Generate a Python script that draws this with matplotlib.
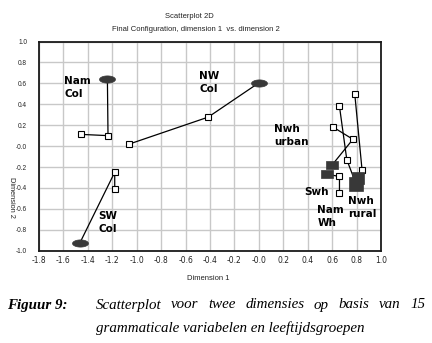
import matplotlib
matplotlib.use('Agg')
import matplotlib.pyplot as plt
from matplotlib.path import Path
import numpy as np

plt.rcParams['axes.unicode_minus'] = False

# ---- data ----
groups = ["Nam Col", "NW Col", "SW Col", "Nwh urban", "Nwh rural A", "Nwh rural B", "Nam Wh"]
centroid_x = [-1.24, 0.00, -1.465, 0.60, 0.813, 0.796, 0.56]
centroid_y = [0.64, 0.605, -0.925, -0.18, -0.306, -0.363, -0.27]
centroid_kind = ["ellipse", "ellipse", "ellipse", "rect", "sq_small", "sq_large", "rect"]
p1_x = [-1.235, -0.415, -1.18, 0.77, 0.845, 0.72, 0.66]
p1_y = [0.10, 0.277, -0.25, 0.065, -0.23, -0.13, -0.29]
p2_x = [-1.456, -1.06, -1.18, 0.61, 0.785, 0.66, 0.66]
p2_y = [0.112, 0.02, -0.41, 0.18, 0.50, 0.38, -0.45]

label_text = ["Nam\nCol", "NW\nCol", "SW\nCol", "Nwh\nurban", "Swh", "Nam\nWh", "Nwh\nrural"]
label_x = [-1.595, -0.49, -1.311, 0.127, 0.371, 0.479, 0.728]
label_y = [0.67, 0.72, -0.62, 0.21, -0.394, -0.56, -0.474]

x_ticks = np.round(np.arange(-1.8, 1.01, 0.2), 1)
y_ticks = np.round(np.arange(-1.0, 1.01, 0.2), 1)

title1 = "Scatterplot 2D"
title2 = "Final Configuration, dimension 1  vs. dimension 2"
xlabel = "Dimension 1"
ylabel = "Dimension 2"
cap_head = "Figuur 9:"
cap_line1 = "Scatterplot voor twee dimensies op basis van 15"
cap_line2 = "grammaticale variabelen en leeftijdsgroepen"

# ---- markers ----
t = np.linspace(0, 2 * np.pi, 40)
ellipse_marker = Path(np.column_stack([np.cos(t), 0.45 * np.sin(t)]), closed=True)
rect_marker = Path([(-1, -0.7), (1, -0.7), (1, 0.7), (-1, 0.7), (-1, -0.7)], closed=True)

W, H = 432, 343
fig = plt.figure(figsize=(W / 100, H / 100), dpi=100)
ax = fig.add_axes([39 / W, 1 - 250.7 / H, (381 - 39) / W, (250.7 - 41.5) / H])

ax.set_xlim(-1.8, 1.0)
ax.set_ylim(-1.0, 1.0)
ax.set_xticks(x_ticks)
ax.set_yticks(y_ticks)
ax.set_xticklabels([f"{v:.1f}" for v in x_ticks])
ax.set_yticklabels([f"{v:.1f}" for v in y_ticks])
ax.tick_params(axis='both', length=0, colors='#222222')
ax.tick_params(axis='x', pad=4, labelsize=5.5)
ax.tick_params(axis='y', pad=8.5, labelsize=4.7)
for lab in ax.get_yticklabels():
    lab.set_family('Liberation Sans')
ax.grid(True, color='#c8c8c8', lw=1.0)
ax.set_axisbelow(True)
for s in ax.spines.values():
    s.set_color('#1a1a1a')
    s.set_linewidth(1.3)

fill_col = '#383838'
for i in range(len(groups)):
    xs = [centroid_x[i], p1_x[i], p2_x[i]]
    ys = [centroid_y[i], p1_y[i], p2_y[i]]
    ax.plot(xs, ys, color='black', lw=0.9, zorder=2)
    ax.plot([p1_x[i], p2_x[i]], [p1_y[i], p2_y[i]], ls='none', marker='s',
            markersize=4.6, mfc='white', mec='black', mew=0.8, zorder=3)
for i in range(len(groups)):
    k = centroid_kind[i]
    if k == "ellipse":
        m, ms = ellipse_marker, 11.5
    elif k == "rect":
        m, ms = rect_marker, 9.0
    elif k == "sq_small":
        m, ms = 's', 8.0
    else:
        m, ms = 's', 9.5
    ax.plot([centroid_x[i]], [centroid_y[i]], ls='none', marker=m, markersize=ms,
            mfc=fill_col, mec=fill_col, mew=0.5, zorder=4)

for i in range(len(label_text)):
    ax.text(label_x[i], label_y[i], label_text[i], ha='left', va='top',
            fontsize=7.5, fontweight='bold', family='DejaVu Sans',
            linespacing=1.4, color='black', zorder=5)

# titles and axis labels
fig.text(189 / W, 1 - 16 / H, title1, ha='center', va='center', fontsize=5.5,
         family='Liberation Sans', color='#222222')
fig.text(196 / W, 1 - 29.3 / H, title2, ha='center', va='center', fontsize=5.5,
         family='Liberation Sans', color='#222222')
fig.text(208 / W, 1 - 278.3 / H, xlabel, ha='center', va='center', fontsize=5.5,
         family='Liberation Sans', color='#222222')
fig.text(11.5 / W, 1 - 197 / H, ylabel, ha='center', va='center', fontsize=5.3,
         family='Liberation Sans', color='#222222', rotation=270)

# caption
fig.text(7 / W, 1 - 305 / H, cap_head, ha='left', va='center', fontsize=10.8,
         family='Liberation Serif', style='italic', fontweight='bold')
fig.text(96 / W, 1 - 328 / H, cap_line2, ha='left', va='center', fontsize=10.8,
         family='Liberation Serif', style='italic')

# justified first caption line
words = cap_line1.split()
fig.canvas.draw()
r = fig.canvas.get_renderer()
objs = [fig.text(0, 1 - 305 / H, w_, ha='left', va='center', fontsize=10.8,
                 family='Liberation Serif', style='italic') for w_ in words]
widths = [o.get_window_extent(renderer=r).width for o in objs]
x0, x1 = 96.0, 425.0
gap = (x1 - x0 - sum(widths)) / (len(words) - 1)
xc = x0
for o, wd in zip(objs, widths):
    o.set_x(xc / W)
    xc += wd + gap

fig.savefig('out.png', dpi=100)
